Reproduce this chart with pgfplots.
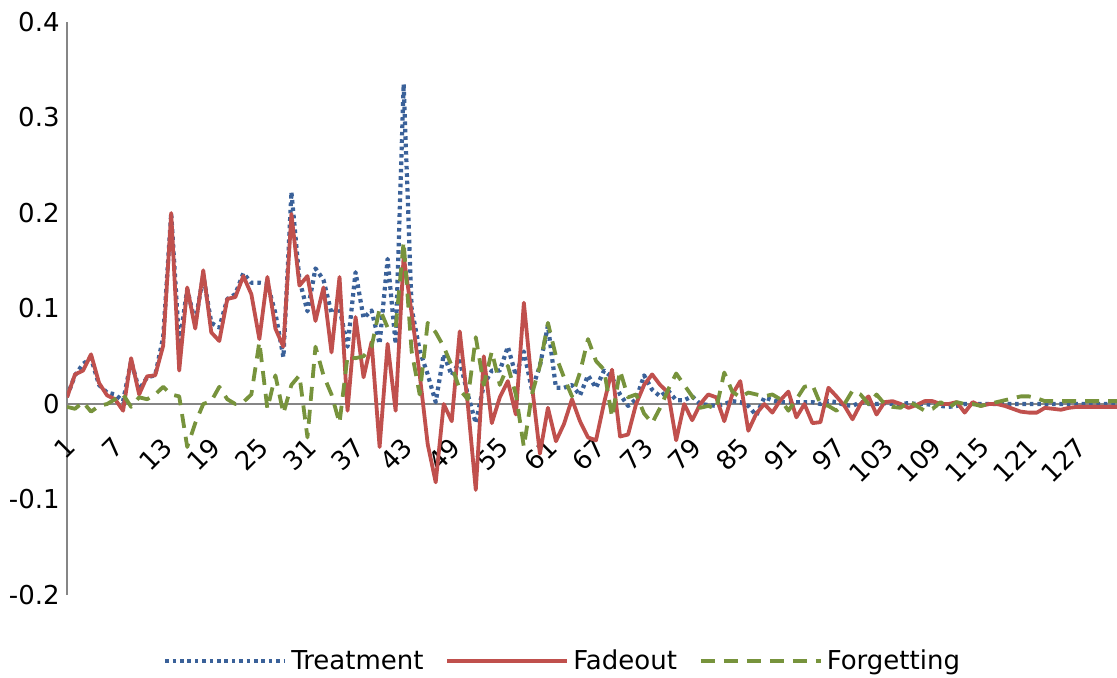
\documentclass[border=0pt]{standalone}
\usepackage{fontspec}
\setmainfont{DejaVu Sans}
\usepackage{pgfplots}
\usepackage{pgfplotstable}
\pgfplotsset{compat=1.18}
\definecolor{cT}{RGB}{58,97,153}
\definecolor{cF}{RGB}{192,80,77}
\definecolor{cG}{RGB}{119,147,60}
\definecolor{axgray}{RGB}{134,134,134}
\pgfplotstableread{
x T F G
1 0.008 0.007 -0.003
2 0.030 0.031 -0.005
3 0.042 0.035 0.002
4 0.048 0.052 -0.008
5 0.020 0.022 -0.002
6 0.012 0.009 0.000
7 0.010 0.005 0.005
8 0.003 -0.007 0.010
9 0.045 0.048 -0.003
10 0.015 0.010 0.007
11 0.028 0.029 0.005
12 0.030 0.030 0.010
13 0.070 0.061 0.018
14 0.200 0.200 0.010
15 0.062 0.035 0.008
16 0.120 0.122 -0.045
17 0.085 0.079 -0.020
18 0.135 0.140 0.000
19 0.085 0.075 0.003
20 0.080 0.066 0.018
21 0.110 0.110 0.005
22 0.115 0.112 0.000
23 0.137 0.134 0.002
24 0.127 0.115 0.010
25 0.127 0.068 0.065
26 0.126 0.133 -0.005
27 0.095 0.079 0.030
28 0.049 0.060 -0.010
29 0.222 0.199 0.020
30 0.130 0.124 0.030
31 0.097 0.134 -0.035
32 0.142 0.087 0.060
33 0.130 0.122 0.030
34 0.095 0.054 0.010
35 0.100 0.133 -0.020
36 0.060 -0.007 0.050
37 0.138 0.091 0.048
38 0.090 0.028 0.050
39 0.098 0.065 0.060
40 0.063 -0.045 0.100
41 0.152 0.063 0.080
42 0.063 -0.007 0.080
43 0.335 0.155 0.170
44 0.100 0.095 0.055
45 0.056 0.031 0.010
46 0.031 -0.042 0.085
47 0.002 -0.082 0.075
48 0.052 0.000 0.060
49 0.030 -0.018 0.040
50 0.045 0.076 0.015
51 0.010 0.000 0.005
52 -0.020 -0.090 0.070
53 0.020 0.050 0.020
54 0.035 -0.020 0.055
55 0.035 0.007 0.020
56 0.060 0.024 0.040
57 0.030 -0.011 0.010
58 0.055 0.106 -0.045
59 0.015 0.020 0.010
60 0.040 -0.052 0.040
61 0.082 -0.004 0.085
62 0.017 -0.039 0.050
63 0.017 -0.021 0.028
64 0.020 0.005 0.008
65 0.009 -0.018 0.033
66 0.030 -0.035 0.068
67 0.017 -0.038 0.045
68 0.035 0.001 0.036
69 0.028 0.036 -0.014
70 0.010 -0.034 0.035
71 -0.002 -0.032 0.007
72 0.005 0.000 0.010
73 0.030 0.020 -0.010
74 0.015 0.031 -0.020
75 0.008 0.020 -0.004
76 0.014 0.012 0.015
77 0.004 -0.038 0.032
78 0.004 0.000 0.020
79 0.008 -0.017 0.008
80 0.000 0.000 -0.004
81 -0.001 0.010 -0.002
82 -0.002 0.007 -0.005
83 0.000 -0.018 0.033
84 0.003 0.010 0.013
85 0.002 0.024 0.007
86 -0.002 -0.028 0.012
87 -0.012 -0.010 0.010
88 0.007 0.000 0.008
89 0.004 -0.009 0.010
90 0.002 0.004 0.005
91 0.002 0.013 -0.007
92 0.002 -0.014 0.005
93 0.002 0.000 0.018
94 0.002 -0.020 0.020
95 0.000 -0.019 0.000
96 0.003 0.017 -0.002
97 0.002 0.008 -0.007
98 -0.001 -0.002 0.000
99 -0.002 -0.016 0.014
100 0.002 0.000 0.010
101 0.000 0.008 0.000
102 0.000 -0.011 0.010
103 0.001 0.002 0.000
104 0.000 0.003 -0.003
105 0.000 0.000 -0.004
106 0.001 -0.004 0.003
107 0.000 -0.001 -0.002
108 0.000 0.003 -0.007
109 -0.001 0.003 -0.005
110 -0.002 0.000 0.002
111 -0.003 0.000 -0.004
112 -0.002 0.002 0.002
113 0.000 -0.009 0.000
114 0.000 0.002 0.000
115 0.000 -0.002 -0.002
116 0.000 0.000 0.000
117 0.000 0.000 0.002
118 0.000 -0.002 0.004
119 0.000 -0.005 0.006
120 0.000 -0.008 0.008
121 0.000 -0.009 0.008
122 0.000 -0.009 0.006
123 0.000 -0.004 0.003
124 0.000 -0.005 0.003
125 0.000 -0.006 0.003
126 0.000 -0.004 0.003
127 0.000 -0.003 0.003
128 0.000 -0.003 0.003
129 0.000 -0.003 0.003
130 0.000 -0.003 0.003
131 0.000 -0.003 0.003
132 0.000 -0.003 0.003
}\datatable
\begin{document}
\begin{tikzpicture}
\begin{axis}[
  scale only axis,
  width=525pt, height=286.5pt,
  xmin=1, xmax=132, ymin=-0.2, ymax=0.4,
  enlargelimits=false,
  axis x line=middle, axis y line=left,
  hide obscured x ticks=false,
  axis line style={-, draw=axgray, line width=0.8pt},
  major tick length=0pt,
  xtick={1,7,...,127},
  xticklabels={1,7,13,19,25,31,37,43,49,55,61,67,73,79,85,91,97,103,109,115,121,127},
  ytick={-0.2,-0.1,0,0.1,0.2,0.3,0.4},
  yticklabels={-0.2,-0.1,0,0.1,0.2,0.3,0.4},
  every tick label/.append style={font=\fontsize{13}{15.6}\selectfont, text=black},
  xticklabel style={rotate=45, anchor=north east, inner sep=0pt, yshift=-10pt, xshift=-12pt},
  yticklabel style={anchor=east, inner sep=3.5pt},
  legend columns=3,
  legend style={draw=none, fill=none, at={(0.4729,-0.1152)}, anchor=center,
    font=\fontsize{13}{15.6}\selectfont, inner sep=0pt,
    /tikz/every even column/.append style={column sep=9pt},
    nodes={inner sep=2pt}},
  legend image code/.code={\draw[#1] (0pt,0pt) -- (60pt,0pt);},
  line join=round,
]
\addplot[cT, line width=2.1pt, dash pattern=on 1.8pt off 1.9pt, line cap=butt] table[x=x, y=T] {\datatable};
\addlegendentry{Treatment}
\addplot[cF, line width=1.9pt] table[x=x, y=F] {\datatable};
\addlegendentry{Fadeout}
\addplot[cG, line width=1.9pt, dash pattern=on 7pt off 4.5pt, line cap=butt] table[x=x, y=G] {\datatable};
\addlegendentry{Forgetting}
\end{axis}
\pgfresetboundingbox
\path[use as bounding box] (-33.5pt,-41pt) rectangle (525pt,297.5pt);
\end{tikzpicture}
\end{document}
